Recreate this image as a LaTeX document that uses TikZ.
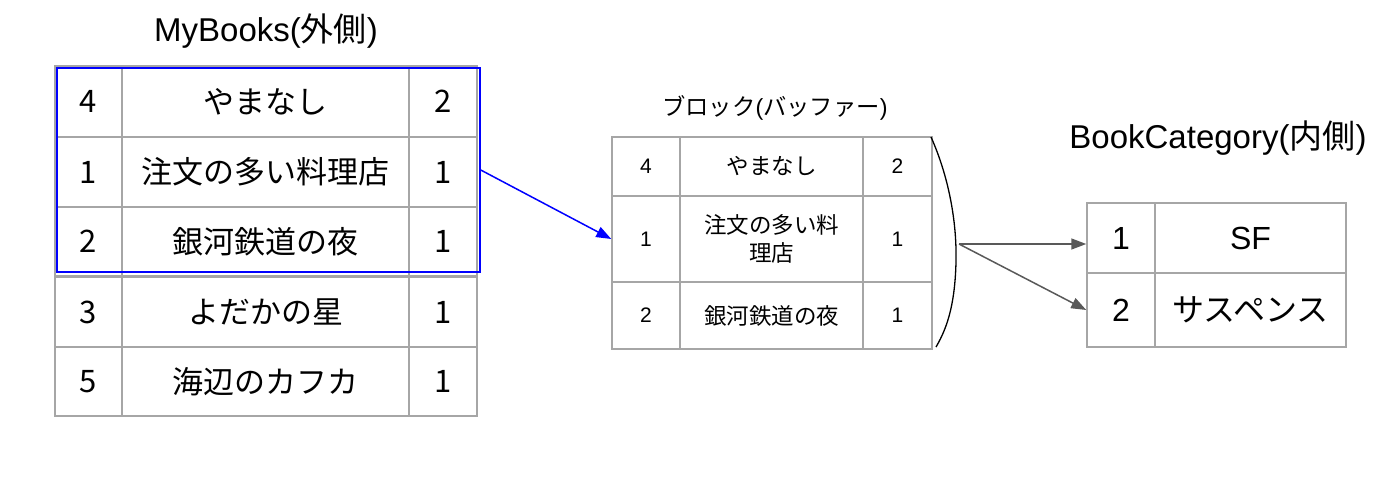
\documentclass[tikz,border=0pt]{standalone}
\usepackage{fontspec}
\setmainfont{Liberation Sans}
\newfontfamily\jp{Noto Sans CJK JP}
\usetikzlibrary{arrows.meta}
\definecolor{gridc}{HTML}{A6A6A6}
\definecolor{arrc}{HTML}{595959}
\tikzset{
  cell/.style 2 args={draw=gridc, line width=1.5pt, inner sep=0pt, minimum width=#1, minimum height=#2, align=center},
  bigtxt/.style={font=\jp\fontsize{31}{36}\selectfont},
  midtxt/.style={font=\fontsize{21}{28}\selectfont},
  midjp/.style={font=\jp\fontsize{22.5}{28}\selectfont},
  righttxt/.style={font=\fontsize{32}{36}\selectfont},
  rightjp/.style={font=\jp\fontsize{32}{36}\selectfont},
  titletxt/.style={font=\fontsize{33}{38}\selectfont, anchor=base},
  blueline/.style={draw=blue, line width=1.5pt},
  bluearrow/.style={blue, line width=1.5pt, -{Triangle[length=15pt,width=11pt]}},
  grayarrow/.style={arrc, line width=1.5pt, -{Triangle[length=15pt,width=11pt]}},
}
\begin{document}
\begin{tikzpicture}[x=1pt,y=-1pt]
\useasboundingbox (0,0) rectangle (1400,477);
% ---- MyBooks (outer) ----
\node[titletxt] (t1) at (266,41) {MyBooks({\jp 外側})};
\node[cell={67pt}{71pt}, bigtxt] (L1a) at (88.5,101.5) {4};
\node[cell={287pt}{71pt}, bigtxt] (L1b) at (265.5,101.5) {やまなし};
\node[cell={68pt}{71pt}, bigtxt] (L1c) at (443,101.5) {2};
\node[cell={67pt}{70pt}, bigtxt] (L2a) at (88.5,172) {1};
\node[cell={287pt}{70pt}, bigtxt] (L2b) at (265.5,172) {注文の多い料理店};
\node[cell={68pt}{70pt}, bigtxt] (L2c) at (443,172) {1};
\node[cell={67pt}{69pt}, bigtxt] (L3a) at (88.5,241.5) {2};
\node[cell={287pt}{69pt}, bigtxt] (L3b) at (265.5,241.5) {銀河鉄道の夜};
\node[cell={68pt}{69pt}, bigtxt] (L3c) at (443,241.5) {1};
\node[cell={67pt}{70pt}, bigtxt] (L4a) at (88.5,312) {3};
\node[cell={287pt}{70pt}, bigtxt] (L4b) at (265.5,312) {よだかの星};
\node[cell={68pt}{70pt}, bigtxt] (L4c) at (443,312) {1};
\node[cell={67pt}{69pt}, bigtxt] (L5a) at (88.5,381.5) {5};
\node[cell={287pt}{69pt}, bigtxt] (L5b) at (265.5,381.5) {海辺のカフカ};
\node[cell={68pt}{69pt}, bigtxt] (L5c) at (443,381.5) {1};
\node[blueline, inner sep=0pt, minimum width=423pt, minimum height=204pt] (sel) at (268.5,170) {};
% ---- Block (buffer) ----
\node[font=\jp\fontsize{23.3}{28}\selectfont, anchor=base] (t2) at (775,115) {ブロック{\fontspec{Liberation Sans}(}バッファー{\fontspec{Liberation Sans})}};
\node[cell={68pt}{59pt}, midtxt] (M1a) at (646,166.5) {4};
\node[cell={183pt}{59pt}, midjp] (M1b) at (771.5,166.5) {やまなし};
\node[cell={69pt}{59pt}, midtxt] (M1c) at (897.5,166.5) {2};
\node[cell={68pt}{86pt}, midtxt] (M2a) at (646,239) {1};
\node[cell={183pt}{86pt}, midjp] (M2b) at (771.5,239) {注文の多い料\\理店};
\node[cell={69pt}{86pt}, midtxt] (M2c) at (897.5,239) {1};
\node[cell={68pt}{67pt}, midtxt] (M3a) at (646,315.5) {2};
\node[cell={183pt}{67pt}, midjp] (M3b) at (771.5,315.5) {銀河鉄道の夜};
\node[cell={69pt}{67pt}, midtxt] (M3c) at (897.5,315.5) {1};
% brace
\draw[black, line width=1.3pt] (931,137) .. controls (948,175) and (957,220) .. (956,262) .. controls (955,300) and (949,325) .. (936,347);
\coordinate (tip) at (959,244);
% ---- BookCategory (inner) ----
\node[titletxt] (t3) at (1218,148) {BookCategory({\jp 内側})};
\node[cell={68pt}{70pt}, righttxt] (R1a) at (1121,238) {1};
\node[cell={191pt}{70pt}, righttxt] (R1b) at (1250.5,238) {SF};
\node[cell={68pt}{74pt}, righttxt] (R2a) at (1121,310) {2};
\node[cell={191pt}{74pt}, rightjp] (R2b) at (1250.5,310) {サスペンス};
% ---- connectors ----
\draw[bluearrow] (sel.east) -- (M2a.west);
\draw[grayarrow] (tip) -- (tip -| R1a.west);
\draw[grayarrow] (tip) -- (R2a.west);
\end{tikzpicture}
\end{document}
